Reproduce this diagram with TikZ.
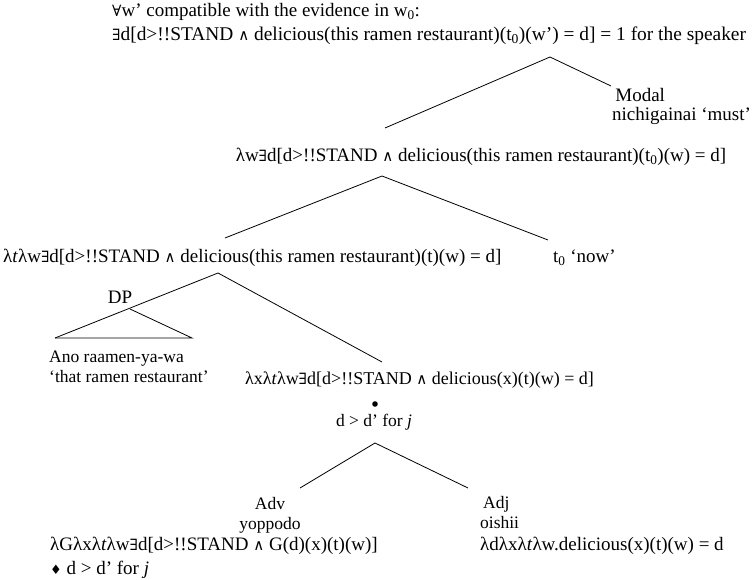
\documentclass[tikz,border=0pt]{standalone}
\usepackage{fontspec}
\setmainfont{Liberation Serif}
\newfontfamily\symfont{DejaVu Serif}
% logical symbols set from DejaVu, slightly smaller than the text
\newcommand\symA{{\symfont\fontsize{15.5}{15.5}\selectfont ∀}}
\newcommand\symE{{\symfont\fontsize{15.5}{15.5}\selectfont ∃}}
\newcommand\symW{{\symfont\fontsize{15}{15}\selectfont ∧}}
\newcommand\symD{{\symfont\fontsize{13}{13}\selectfont ♦}}
\newcommand\zr{\textsubscript{0}}
\tikzset{
  lbl/.style={inner sep=0pt, font=\fontsize{19}{20}\selectfont},
  leaf/.style={inner sep=0pt, font=\fontsize{17.5}{20}\selectfont},
  branch/.style={line width=0.8pt, black}
}
\begin{document}
\begin{tikzpicture}[x=1pt,y=1pt]
\useasboundingbox (0,0) rectangle (752,-580);

% root
\node[lbl, anchor=west] (top1) at (112,-12) {\symA w’ compatible with the evidence in w\zr:};
\node[lbl, anchor=west, font=\fontsize{19.4}{20}\selectfont] (top2) at (112,-36) {\symE d[d>!!STAND \symW{} delicious(this ramen restaurant)(t\zr)(w’) = d] = 1 for the speaker};
\coordinate (r) at (550,-57);
\coordinate (rl) at (385,-128);
\coordinate (rr) at (611,-86);
\node[lbl, anchor=north west, align=left, font=\fontsize{19}{19}\selectfont] (modal) at (612,-88) {\,Modal\\nichigainai ‘must’};

% second level
\node[lbl] (n2) at (481,-157) {λw\symE d[d>!!STAND \symW{} delicious(this ramen restaurant)(t\zr)(w) = d]};
\coordinate (s) at (382,-176);
\coordinate (sl) at (225,-238);
\coordinate (sr) at (548,-240);

% third level
\node[lbl, anchor=west] (n3) at (3,-258) {λ\textit{t}λw\symE d[d>!!STAND \symW{} delicious(this ramen restaurant)(t)(w) = d]};
\node[lbl, anchor=west] (now) at (553,-258) {t\zr{} ‘now’};
\coordinate (t) at (218,-273);
\coordinate (tr) at (382,-362);

% DP triangle
\coordinate (dpa) at (130,-309);
\coordinate (dpl) at (55,-338);
\coordinate (dpr) at (192,-338);
\node[lbl] (dp) at (120,-297) {DP};
\node[leaf, anchor=north west, align=left] (ano) at (49,-351) {Ano raamen-ya-wa\\‘that ramen restaurant’};

% predicate
\node[lbl, anchor=west, font=\fontsize{18}{20}\selectfont] (n4) at (245,-380) {λxλ\textit{t}λw\symE d[d>!!STAND \symW{} delicious(x)(t)(w) = d]};
\fill (375,-404) circle (2.8) coordinate (dot);
\node[leaf] (n5) at (374,-422) {d > d’ for \textit{j}};
\coordinate (u) at (375,-443);
\coordinate (ul) at (300,-488);
\coordinate (ur) at (468,-488);

% leaves
\node[leaf, align=center] (adv) at (270,-515) {Adv\\yoppodo};
\node[lbl, anchor=west] (advsem) at (50,-546) {λGλxλ\textit{t}λw\symE d[d>!!STAND \symW{} G(d)(x)(t)(w)]};
\node[lbl, anchor=west] (advnote) at (50,-570) {\symD{} d > d’ for \textit{j}};
\node[leaf, align=left, anchor=north west] (adj) at (480,-496) {\,Adj\\oishii};
\node[lbl, anchor=west] (adjsem) at (480,-546) {λdλxλ\textit{t}λw.delicious(x)(t)(w) = d};

% branches
\draw[branch] (rl) -- (r) -- (rr);
\draw[branch] (sl) -- (s) -- (sr);
\draw[branch] (dpl) -- (t) -- (tr);
\draw[branch] (dpa) -- (dpr) -- (dpl);
\draw[branch] (ul) -- (u) -- (ur);
\end{tikzpicture}
\end{document}
